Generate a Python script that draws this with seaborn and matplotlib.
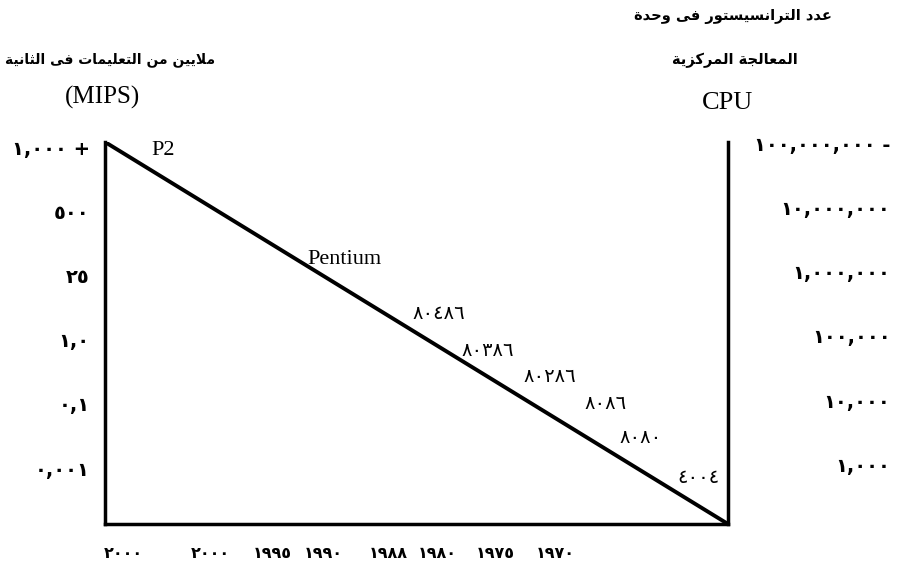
# Moore's law style figure: MIPS (left) and transistors per CPU (right) against the year
import pandas as pd
import matplotlib
matplotlib.use("Agg")
import matplotlib.pyplot as plt
import seaborn as sns

years = ["٢٠٠٠", "٢٠٠٠", "١٩٩٥", "١٩٩٠", "١٩٨٨", "١٩٨٠", "١٩٧٥", "١٩٧٠"]
# where the book put each year along the axis (axis runs 0..10)
year_ticks = [0.29, 1.69, 2.68, 3.50, 4.54, 5.33, 6.26, 7.22]
mips_labels = ["٠,٠٠١", "٠,١", "١,٠", "٢٥", "٥٠٠", "١,٠٠٠ +"]
transistor_labels = ["١,٠٠٠", "١٠,٠٠٠", "١٠٠,٠٠٠", "١,٠٠٠,٠٠٠", "١٠,٠٠٠,٠٠٠", "١٠٠,٠٠٠,٠٠٠ -"]

chips = ["P2", "Pentium", "٨٠٤٨٦", "٨٠٣٨٦", "٨٠٢٨٦", "٨٠٨٦", "٨٠٨٠", "٤٠٠٤"]
chip_x = [0.93, 3.85, 5.36, 6.15, 7.14, 8.04, 8.60, 9.52]
chip_y = [4.95, 3.25, 2.41, 1.84, 1.43, 1.01, 0.47, -0.14]

# straight trend, corner to corner
trend_x = [0.0, 10.0]
trend_y = [5.08, -0.87]

left_title = "ملايين من التعليمات فى الثانية"
right_title_1 = "عدد الترانسيستور فى وحدة"
right_title_2 = "المعالجة المركزية"


# tiny arabic shaper: matplotlib has no shaping, so use presentation forms
FORMS = {
    "ا": (0xFE8D, 0xFE8E, None, None),
    "ة": (0xFE93, 0xFE94, None, None),
    "ت": (0xFE95, 0xFE96, 0xFE97, 0xFE98),
    "ث": (0xFE99, 0xFE9A, 0xFE9B, 0xFE9C),
    "ج": (0xFE9D, 0xFE9E, 0xFE9F, 0xFEA0),
    "ح": (0xFEA1, 0xFEA2, 0xFEA3, 0xFEA4),
    "د": (0xFEA9, 0xFEAA, None, None),
    "ر": (0xFEAD, 0xFEAE, None, None),
    "ز": (0xFEAF, 0xFEB0, None, None),
    "س": (0xFEB1, 0xFEB2, 0xFEB3, 0xFEB4),
    "ع": (0xFEC9, 0xFECA, 0xFECB, 0xFECC),
    "ف": (0xFED1, 0xFED2, 0xFED3, 0xFED4),
    "ك": (0xFED9, 0xFEDA, 0xFEDB, 0xFEDC),
    "ل": (0xFEDD, 0xFEDE, 0xFEDF, 0xFEE0),
    "م": (0xFEE1, 0xFEE2, 0xFEE3, 0xFEE4),
    "ن": (0xFEE5, 0xFEE6, 0xFEE7, 0xFEE8),
    "و": (0xFEED, 0xFEEE, None, None),
    "ى": (0xFEEF, 0xFEF0, None, None),
    "ي": (0xFEF1, 0xFEF2, 0xFEF3, 0xFEF4),
    "لا": (0xFEFB, 0xFEFC, None, None),
}


def shape(text):
    tokens = []
    i = 0
    while i < len(text):
        if text[i:i + 2] == "لا":
            tokens.append("لا")
            i += 2
        else:
            tokens.append(text[i])
            i += 1
    out = []
    for k, t in enumerate(tokens):
        if t not in FORMS:
            out.append(t)
            continue
        prev = tokens[k - 1] if k > 0 else None
        nxt = tokens[k + 1] if k + 1 < len(tokens) else None
        join_prev = prev in FORMS and FORMS[prev][2] is not None
        join_next = FORMS[t][2] is not None and nxt in FORMS
        iso, fin, ini, med = FORMS[t]
        if join_prev and join_next:
            out.append(chr(med))
        elif join_prev:
            out.append(chr(fin))
        elif join_next:
            out.append(chr(ini))
        else:
            out.append(chr(iso))
    return "".join(out)[::-1]


sns.set_style("white")
plt.rcParams["font.family"] = ["DejaVu Sans"]
plt.rcParams["text.color"] = "black"
plt.rcParams["xtick.color"] = "black"
plt.rcParams["ytick.color"] = "black"

W, H = 905, 568
fig = plt.figure(figsize=(W / 100, H / 100), dpi=100)
ax = fig.add_axes([105 / W, (H - 524) / H, (728 - 105) / W, (524 - 142) / H])

trend = pd.DataFrame({"x": trend_x, "y": trend_y})
sns.lineplot(data=trend, x="x", y="y", color="black", linewidth=2.8, ax=ax)

ax.set_xlim(trend_x[0], trend_x[1])
ax.set_ylim(trend_y[1], trend_y[0])
ax.set_xticks(year_ticks)
ax.set_xticklabels(years, fontsize=11.5, fontweight="bold")
ax.set_yticks(range(len(mips_labels)))
ax.set_yticklabels(mips_labels, fontsize=14, fontweight="bold")
ax.set_xlabel("")
ax.set_ylabel("")
ax.tick_params(axis="both", length=0, labelcolor="black")
ax.tick_params(axis="x", pad=16)
ax.tick_params(axis="y", pad=11)

ax2 = ax.twinx()
ax2.set_ylim(trend_y[1] - 0.06, trend_y[0] - 0.06)
ax2.set_yticks(range(len(transistor_labels)))
ax2.set_yticklabels(transistor_labels, fontsize=14, fontweight="bold", ha="right")
ax2.tick_params(axis="y", length=0, pad=117, labelcolor="black")

for a in (ax, ax2):
    for side in ("top", "left", "right", "bottom"):
        a.spines[side].set_visible(False)
ax.spines["left"].set_visible(True)
ax.spines["bottom"].set_visible(True)
ax2.spines["right"].set_visible(True)
for sp in (ax.spines["left"], ax.spines["bottom"], ax2.spines["right"]):
    sp.set_linewidth(2.5)
    sp.set_color("black")

for name, x, y in zip(chips, chip_x, chip_y):
    if name.isascii():
        ax.text(x, y, name, ha="center", va="center", fontsize=16,
                family="Liberation Serif", color="black")
    else:
        ax.text(x, y, name, ha="center", va="center", fontsize=14, color="black")

fig.text(110 / W, 1 - 60 / H, shape(left_title), ha="center", va="center",
         fontsize=10, fontweight="bold", color="black")
fig.text(102 / W, 1 - 97 / H, "(MIPS)", ha="center", va="center",
         fontsize=18, family="Liberation Serif", color="black")
fig.text(733 / W, 1 - 17 / H, shape(right_title_1), ha="center", va="center",
         fontsize=10.5, fontweight="bold", color="black")
fig.text(735 / W, 1 - 60 / H, shape(right_title_2), ha="center", va="center",
         fontsize=10.5, fontweight="bold", color="black")
fig.text(727 / W, 1 - 103 / H, "CPU", ha="center", va="center",
         fontsize=19, family="Liberation Serif", color="black")

fig.savefig("out.png", dpi=100)
